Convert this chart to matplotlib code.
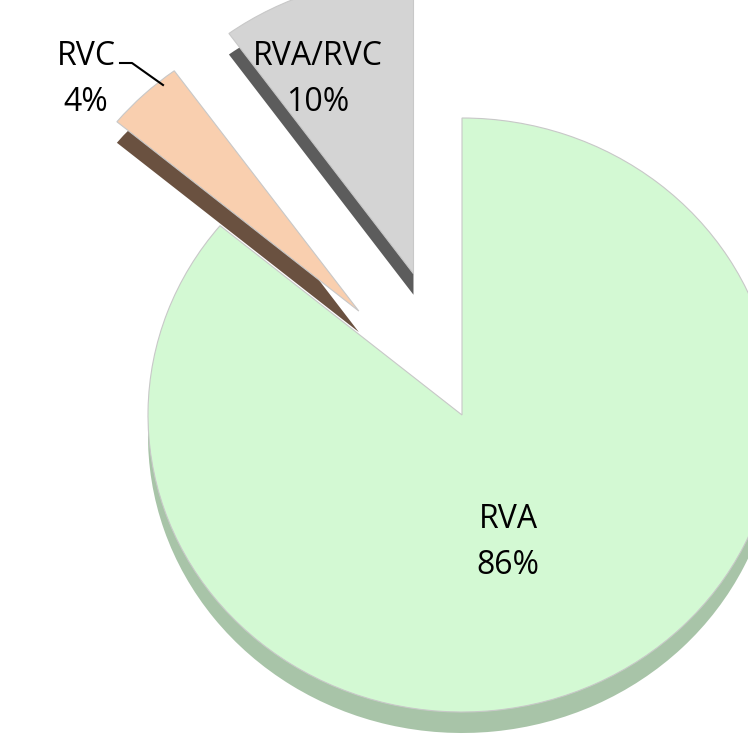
import matplotlib.pyplot as plt

# === Data ===
labels = ["RVA", "RVC", "RVA/RVC"]
shares = [86, 4, 10]
explode = [0.0, 0.48, 0.5]

top_colors = ["#d3f9d3", "#f9cfaf", "#d4d4d4"]
side_colors = ["#a8c4a8", "#6a5140", "#5c5c5c"]

W, H = 748, 749
CX, CY = 462, 415        # pie centre in pixels (from top-left)
RX, RY = 314, 297        # pie radii in pixels (slightly tilted)
DEPTH = 21 / RY          # 3D thickness in data units

fig = plt.figure(figsize=(W / 100, H / 100), dpi=100)
ax = fig.add_axes([0, 0, 1, 1])
ax.axis("off")

# side (depth) layer first, shifted down
ax.pie(shares, explode=explode, colors=side_colors, startangle=90,
       counterclock=False, center=(0, -DEPTH), radius=1,
       wedgeprops=dict(linewidth=0))
# top faces
ax.pie(shares, explode=explode, colors=top_colors, startangle=90,
       counterclock=False, center=(0, 0), radius=1,
       wedgeprops=dict(edgecolor="#c8c8c8", linewidth=0.8))

ax.set_aspect("auto")
ax.set_xlim(-CX / RX, (W - CX) / RX)
ax.set_ylim(-(H - CY) / RY, CY / RY)


def px(x, y):
    return x / W, 1 - y / H


font = dict(family=["Open Sans", "DejaVu Sans"], fontsize=23, color="black",
            ha="center", va="baseline", transform=fig.transFigure)
# (x centre, baseline of name) for each label
label_pos = [(508, 528), (86, 65), (318, 65)]
for name, share, (x, y) in zip(labels, shares, label_pos):
    ax.text(*px(x, y), name, **font)
    ax.text(*px(x, y + 46), f"{share}%", **font)

# leader line for RVC
lx, ly = zip(px(120, 63), px(132, 63), px(163, 85))
fig.add_artist(plt.Line2D(lx, ly, color="black", linewidth=1.5))

fig.savefig("out.png", dpi=100, facecolor="white")
